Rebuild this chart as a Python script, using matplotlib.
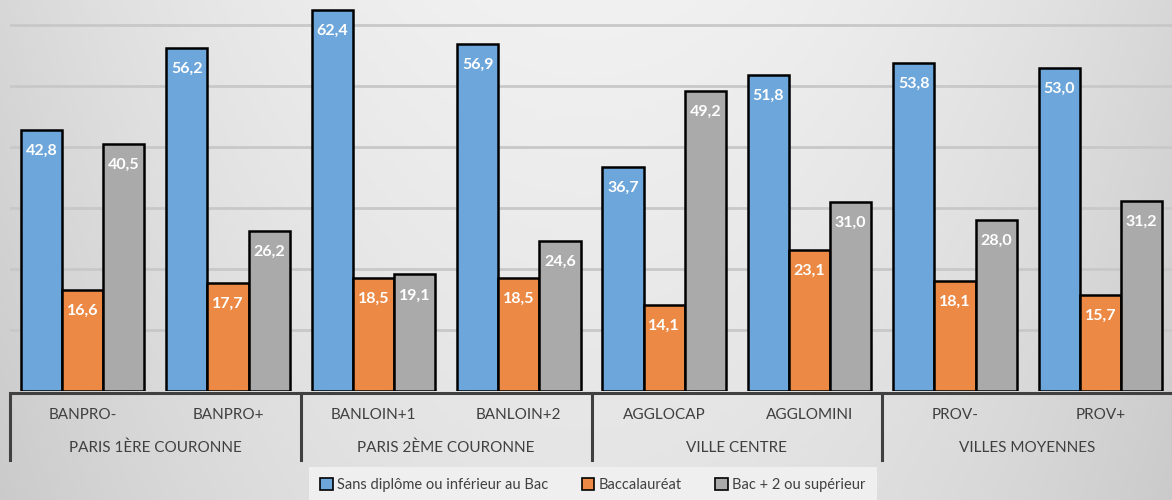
import numpy as np
import matplotlib
matplotlib.use("Agg")
import matplotlib.pyplot as plt
import matplotlib.transforms as mtransforms
from matplotlib.patches import Patch

# Données
categories = ["BANPRO-", "BANPRO+", "BANLOIN+1", "BANLOIN+2",
              "AGGLOCAP", "AGGLOMINI", "PROV-", "PROV+"]
groups = ["PARIS 1ÈRE COURONNE", "PARIS 2ÈME COURONNE", "VILLE CENTRE", "VILLES MOYENNES"]
series_names = ["Sans diplôme ou inférieur au Bac", "Baccalauréat", "Bac + 2 ou supérieur"]
sans_diplome = [42.8, 56.2, 62.4, 56.9, 36.7, 51.8, 53.8, 53.0]
baccalaureat = [16.6, 17.7, 18.5, 18.5, 14.1, 23.1, 18.1, 15.7]
bac_plus_2 = [40.5, 26.2, 19.1, 24.6, 49.2, 31.0, 28.0, 31.2]

colors = ["#6CA6DA", "#EC8A45", "#AAAAAA"]

plt.rcParams['font.family'] = ['Lato', 'DejaVu Sans']

W, H = 1172, 500
fig = plt.figure(figsize=(W / 100, H / 100), dpi=100)

# fond en dégradé
bg = fig.add_axes([0, 0, 1, 1], zorder=-10)
xx, yy = np.meshgrid(np.linspace(0, 1, 300), np.linspace(0, 1, 150))
dx = np.abs(xx - 0.5) / 0.5
val = 0.945 - 0.10 * dx ** 2 - 0.05 * yy
bg.imshow(np.dstack([val, val, val]), aspect='auto', extent=[0, 1, 1, 0])
bg.set_axis_off()

ax = fig.add_axes([10 / W, 1 - 391 / H, 1163 / W, 391 / H])
ax.set_facecolor('none')

n = len(categories)
x = np.arange(n) + 0.5
bw = 0.283
all_series = [sans_diplome, baccalaureat, bac_plus_2]
for k, (vals, col) in enumerate(zip(all_series, colors)):
    xs = x + (k - 1) * bw
    ax.bar(xs, vals, width=bw, color=col, edgecolor='black', linewidth=1.8, zorder=3)
    for xi, v in zip(xs, vals):
        ax.annotate(f"{v:.1f}".replace('.', ','), (xi, v), xytext=(0, -15),
                    textcoords='offset points', ha='center', va='center',
                    color='white', fontsize=11.5, fontweight='bold', zorder=4)

ax.set_xlim(0, n)
ax.set_ylim(0, 64.1)
ax.set_yticks([10, 20, 30, 40, 50, 60])
ax.yaxis.grid(True, color='#c8c8c8', linewidth=2)
ax.set_axisbelow(True)
ax.tick_params(left=False, labelleft=False, bottom=False, labelbottom=False)
for s in ax.spines.values():
    s.set_visible(False)

# axe des catégories à deux niveaux
tr = mtransforms.blended_transform_factory(ax.transData, fig.transFigure)
ax.plot([0, n], [1 - 393 / H, 1 - 393 / H], color='#404040', lw=2.2,
        transform=tr, clip_on=False, solid_capstyle='butt')
for b in range(0, n + 1, 2):
    ax.plot([b, b], [1 - 393 / H, 1 - 460 / H], color='#404040', lw=2.2,
            transform=tr, clip_on=False)
for xi, lab in zip(x, categories):
    ax.text(xi, 1 - 415 / H, lab, transform=tr, ha='center', va='center',
            fontsize=11, color='#404040')
for g, lab in enumerate(groups):
    ax.text(2 * g + 1, 1 - 448 / H, lab, transform=tr, ha='center', va='center',
            fontsize=11, color='#404040')

handles = [Patch(facecolor=c, edgecolor='black', linewidth=1.2) for c in colors]
leg = fig.legend(handles, series_names, loc='center', bbox_to_anchor=(593 / W, 1 - 485 / H),
                 ncol=3, frameon=True, fancybox=False, fontsize=10.5,
                 handlelength=0.85, handleheight=0.85, handletextpad=0.3,
                 columnspacing=2.3, borderpad=0.75, borderaxespad=0)
leg.get_frame().set_facecolor('#efefef')
leg.get_frame().set_edgecolor('none')
leg.get_frame().set_alpha(1)
for t in leg.get_texts():
    t.set_color('#404040')

fig.savefig("out.png", dpi=100)
